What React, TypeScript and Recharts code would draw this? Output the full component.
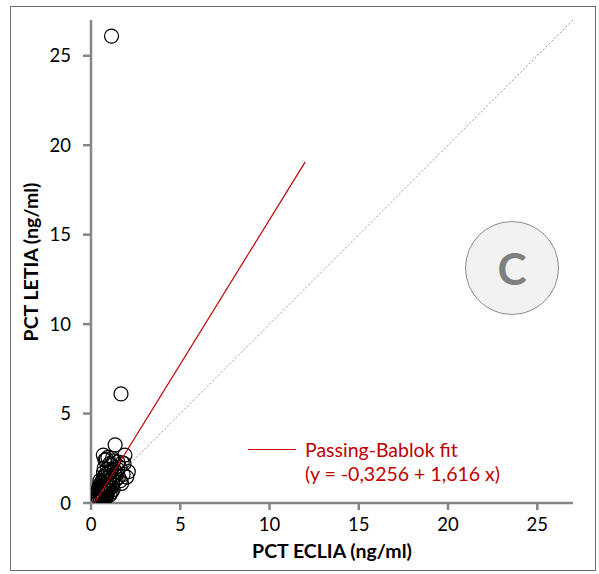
import React from 'react';
import { ScatterChart, Scatter, XAxis, YAxis } from 'recharts';

// PCT ECLIA (x) vs PCT LETIA (y), ng/ml
const eclia = [
  1.15, 1.68, 1.35, 1.9, 2.09, 1.72, 0.88, 0.69, 0.78, 0.95, 1.05, 1.2, 1.5, 1.6, 1.8,
  0.5, 0.55, 0.6, 0.62, 0.65, 0.7, 0.72, 0.75, 0.8, 0.82, 0.85, 0.9, 0.92, 0.98, 1.0,
  1.1, 1.12, 1.25, 1.3, 1.4, 1.45, 1.55, 1.65, 1.75, 2.0, 0.4, 0.45, 0.35, 0.58, 0.68,
  0.74, 0.86, 0.96, 1.08, 1.18, 1.28, 1.38, 0.52, 0.64, 0.78, 0.88, 1.02, 1.22, 1.48, 1.85,
  0.42, 0.48, 0.53, 0.57, 0.61, 0.66, 0.71, 0.76, 0.81, 0.84, 0.47, 0.56, 0.63, 0.73, 0.79,
  0.91, 1.04, 1.14, 0.38, 0.6, 0.67, 0.83, 0.94, 1.06, 1.16, 1.24, 0.5, 0.7,
];
const letia = [
  26.1, 6.1, 3.25, 2.68, 1.75, 1.1, 0.45, 2.68, 2.4, 2.55, 2.2, 2.5, 2.3, 2.0, 1.6,
  0.4, 0.6, 0.5, 0.9, 0.7, 1.0, 0.55, 1.3, 0.8, 1.6, 0.35, 1.2, 1.9, 0.95, 1.45,
  1.75, 2.1, 1.5, 1.85, 1.3, 1.7, 1.45, 1.25, 2.25, 1.45, 0.3, 0.8, 0.55, 1.15, 1.4,
  1.95, 2.45, 0.7, 1.05, 0.9, 2.35, 1.55, 0.25, 0.3, 0.6, 0.75, 1.3, 1.05, 1.9, 2.2,
  0.45, 0.65, 0.35, 0.75, 0.45, 0.55, 0.85, 0.4, 1.05, 0.6, 1.0, 0.95, 1.1, 0.65, 1.5,
  0.5, 0.85, 0.6, 0.7, 0.28, 0.2, 0.3, 0.95, 0.45, 1.35, 0.75, 1.25, 1.7,
];
const points = eclia.map((x, i) => ({ x, y: letia[i] }));

// Passing-Bablok fit: y = -0.3256 + 1.616 x, drawn from y = 0 to x = 12
const fitLine = [
  { x: 0.2, y: 0 },
  { x: 12, y: 19.07 },
];
const identityLine = [
  { x: 0, y: 0 },
  { x: 27, y: 27 },
];
const ticks = [0, 5, 10, 15, 20, 25];

const font = 'Lato, "Open Sans", sans-serif';
const axisColor = '#868686';

const Ring = (props: any) => (
  <circle cx={props.cx} cy={props.cy} r={7} fill="none" stroke="#000" strokeWidth={1.2} />
);
const NoDot = () => <g />;

export default function App() {
  return (
    <div style={{ position: 'absolute', left: 0, top: 0, width: 599, height: 574, background: '#fff', fontFamily: font }}>
      <div
        style={{
          position: 'absolute',
          left: 10,
          top: 6,
          width: 586,
          height: 565,
          border: '1.5px solid #6e6e6e',
          boxSizing: 'border-box',
        }}
      />
      <ScatterChart
        width={599}
        height={574}
        margin={{ top: 20, right: 26, bottom: 41, left: 0 }}
        style={{ position: 'absolute', left: 0, top: 0 }}
      >
        <XAxis
          type="number"
          dataKey="x"
          domain={[0, 27]}
          ticks={ticks}
          height={30}
          allowDataOverflow
          stroke={axisColor}
          strokeWidth={2.5}
          tickSize={7}
          tickMargin={8}
          tick={{ fill: '#000', fontSize: 18.5, fontFamily: font }}
        />
        <YAxis
          type="number"
          dataKey="y"
          domain={[0, 27]}
          ticks={ticks}
          width={91}
          allowDataOverflow
          stroke={axisColor}
          strokeWidth={2.5}
          tickSize={8}
          tickMargin={12}
          tick={{ fill: '#000', fontSize: 18.5, fontFamily: font }}
        />
        <Scatter data={points} shape={Ring} isAnimationActive={false} />
        <Scatter
          data={identityLine}
          line={{ stroke: '#999', strokeWidth: 1, strokeDasharray: '2 2' }}
          shape={NoDot}
          isAnimationActive={false}
        />
        <Scatter
          data={fitLine}
          line={{ stroke: '#c00000', strokeWidth: 1.2 }}
          shape={NoDot}
          isAnimationActive={false}
        />
      </ScatterChart>

      {/* legend */}
      <div style={{ position: 'absolute', left: 248, top: 449, width: 48, height: 0, borderTop: '1px solid #c00000' }} />
      <div style={{ position: 'absolute', left: 305, top: 438, color: '#c00000', fontSize: 19.5, lineHeight: '24px', whiteSpace: 'nowrap' }}>
        Passing-Bablok fit
      </div>
      <div style={{ position: 'absolute', left: 305, top: 462, color: '#c00000', fontSize: 19.5, lineHeight: '24px', whiteSpace: 'nowrap' }}>
        (y = -0,3256 + 1,616 x)
      </div>

      {/* panel badge */}
      <div
        style={{
          position: 'absolute',
          left: 465,
          top: 221,
          width: 94,
          height: 94,
          borderRadius: '50%',
          background: '#f2f2f2',
          border: '1.5px solid #8c8c8c',
          boxSizing: 'border-box',
          display: 'flex',
          alignItems: 'center',
          justifyContent: 'center',
          color: '#7f7f7f',
          fontWeight: 700,
          fontSize: 44,
        }}
      >
        C
      </div>

      {/* axis titles */}
      <div style={{ position: 'absolute', left: 0, width: 664, top: 539, textAlign: 'center', fontWeight: 700, fontSize: 19.5, whiteSpace: 'nowrap' }}>
        PCT ECLIA (ng/ml)
      </div>
      <div
        style={{
          position: 'absolute',
          left: 30,
          top: 262,
          transform: 'translate(-50%, -50%) rotate(-90deg)',
          fontWeight: 700,
          fontSize: 19.5,
          whiteSpace: 'nowrap',
        }}
      >
        PCT LETIA (ng/ml)
      </div>
    </div>
  );
}
